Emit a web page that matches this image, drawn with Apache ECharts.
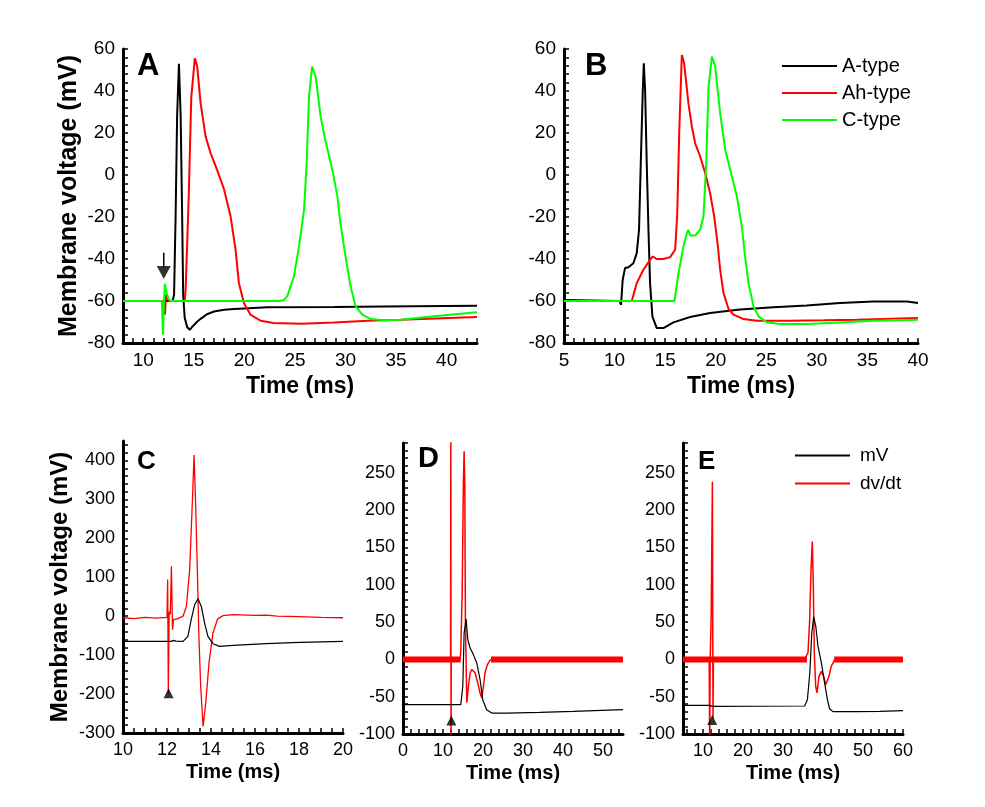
<!DOCTYPE html>
<html>
<head>
<meta charset="utf-8">
<script src="https://cdn.jsdelivr.net/npm/echarts@6/dist/echarts.min.js"></script>
<style>html,body{margin:0;padding:0;background:#fff;}#c{width:985px;height:807px;}</style>
</head>
<body>
<div id="c"></div>
<script>
// ---------- Panel A (time ms, voltage mV) ----------
const aBlack = [[8,-60],[12.9,-60],[13.05,-57],[13.2,-20],[13.35,28],[13.53,53],[13.7,28],[13.85,-20],[13.95,-57],[14.1,-68],[14.35,-72.5],[14.6,-73.7],[14.9,-72],[15.3,-70],[15.67,-68.5],[16.3,-66.3],[17,-65],[18,-64.2],[19,-63.8],[22.3,-63],[28.9,-62.9],[33.8,-62.6],[43,-62.3]];
const aRed = [[8,-60],[12.05,-60],[12.15,-66.5],[12.25,-57],[12.4,-59],[12.6,-60],[14.1,-60],[14.19,-54.6],[14.35,-32],[14.5,-10],[14.75,37],[15.1,55.6],[15.34,51.6],[15.67,34.2],[16.17,18.3],[16.66,10.4],[17.3,2.4],[18.0,-7],[18.64,-19.8],[19.13,-35.6],[19.46,-51.5],[19.96,-61],[20.6,-66.5],[21.6,-69.4],[22.9,-70.5],[25.6,-70.8],[28.9,-70.2],[32.2,-69.4],[35.45,-68.9],[43,-67.6]];
const aGreen = [[8,-60],[11.85,-60],[11.95,-76],[12.05,-60],[12.14,-51.8],[12.3,-56],[12.5,-59],[12.7,-60],[23.5,-60],[23.9,-59.5],[24.24,-57.8],[24.9,-48.3],[25.4,-34],[25.9,-16.6],[26.16,5.6],[26.39,37.3],[26.7,51.6],[27.05,46.8],[27.54,27.8],[28.0,16.7],[28.7,2.4],[29.2,-10.2],[29.5,-23],[30.0,-38.8],[30.5,-53],[31.0,-62.6],[31.66,-66.5],[32.5,-68.6],[33.8,-69.2],[35.45,-68.9],[38.75,-67.3],[43,-65.4]];
const aArrowShaft = [[12.03,-37],[12.03,-44]];
const aArrowHead = [[12.03,-46.4]];

// ---------- Panel B ----------
const bBlack = [[5,-59.5],[10.5,-60],[10.64,-61.8],[10.8,-50],[11.04,-44.3],[11.37,-43.9],[11.86,-42],[12.19,-37.2],[12.42,-26],[12.59,5.6],[12.79,40.5],[12.89,53.2],[13.02,40.5],[13.18,5.6],[13.35,-26],[13.51,-51.5],[13.74,-67.3],[14.17,-72.9],[14.83,-72.9],[15.82,-70.2],[17.47,-67.6],[19.45,-65.7],[22.4,-64.1],[25.7,-63],[29,-62.2],[32.3,-61],[35.6,-60.2],[38.9,-60.2],[40,-61]];
const bRed = [[5,-60],[11.7,-60],[12.19,-51.5],[12.85,-45.1],[13.51,-40.4],[13.78,-38.8],[14.17,-40],[14.83,-40],[15.49,-39.1],[15.99,-35.6],[16.2,-18.2],[16.4,21.5],[16.65,57.1],[16.88,53.2],[17.3,34.2],[17.64,23.1],[17.97,15.1],[18.46,8.8],[18.96,0.9],[19.45,-8.7],[19.85,-19.8],[20.18,-32.4],[20.44,-45.1],[20.77,-56.2],[21.27,-63.8],[21.76,-66.5],[22.75,-68.6],[24.07,-69.4],[27.37,-69.4],[30.67,-69.2],[33.97,-68.9],[40,-68.1]];
const bGreen = [[5,-60],[15.92,-60],[16.32,-46.7],[16.81,-34],[17.14,-27.7],[17.3,-26.1],[17.47,-28.8],[17.97,-28.8],[18.46,-26.1],[18.79,-19.8],[19.06,5.6],[19.29,42.1],[19.62,56.4],[19.95,51.6],[20.44,29.4],[20.94,12],[21.6,-0.7],[22.09,-10.2],[22.58,-24.5],[22.9,-38.8],[23.24,-51.5],[23.74,-62.6],[24.23,-67.3],[25.06,-70.2],[26.4,-71],[29,-71],[32.3,-70.2],[35.6,-69.4],[40,-68.9]];

// ---------- Panel C ----------
const cBlack = [[10,-64.7],[12.2,-64.7],[12.3,-62],[12.4,-64],[12.73,-64.7],[12.95,-51.8],[13.1,-9],[13.26,29.5],[13.41,45],[13.56,25],[13.71,-17.6],[13.86,-51.8],[14.09,-70.6],[14.39,-77.5],[15,-75],[16.5,-70.6],[18.03,-67.2],[20,-64.7]];
const cRed = [[10,-4],[10.5,-6],[11,-3],[11.5,-5],[12.0,-3],[12.03,94],[12.06,-200],[12.1,12],[12.15,5],[12.2,128],[12.25,-35],[12.3,-9],[12.5,-6],[12.73,0],[12.88,25],[13.03,119],[13.15,290],[13.23,414],[13.3,290],[13.38,119],[13.45,-52],[13.53,-180],[13.64,-283],[13.76,-223],[13.91,-120],[14.09,-43],[14.3,-7],[14.55,1.5],[15,4],[16,2],[16.5,3],[17,0],[18,-1],[19,-3],[20,-4]];
const cMarker = [[12.07,-198]];

// ---------- Panel D ----------
const dBlack = [[0,-60.7],[14.45,-60.7],[14.95,-36],[15.28,35.4],[15.78,54.2],[16.2,26.5],[16.78,15.3],[17.6,6.4],[18.44,-4.8],[19.27,-27],[19.93,-54],[20.9,-67.4],[22.2,-71.9],[25.9,-71.9],[34.2,-71],[42.5,-69.6],[55,-67.4]];
const dRed = [[0,0],[11.9,0],[11.96,320],[12.0,-130],[12.06,0],[14.3,0],[14.45,13],[14.78,85],[15.1,237],[15.28,279],[15.45,232],[15.6,53],[15.95,-58],[16.36,-36],[16.78,-18],[17.2,-13.7],[17.6,-11.5],[18.0,-18],[18.6,-29.4],[19.27,-45],[19.7,-51.7],[20.1,-36],[20.5,-18],[21.1,-7],[21.76,-1],[22.6,0],[55,0]];
const dRedNoise = [[0,0],[14.4,0],[18,'-'],[22,0],[55,0]];
const dMarker = [[12.1,-81.8]];

// ---------- Panel E ----------
const eBlack = [[5,-61.6],[11.7,-61.6],[12.3,-63],[35.4,-62.5],[36.1,-54],[36.7,-18.2],[37.2,35.4],[37.67,56.9],[38.2,44.4],[38.75,17.5],[39.6,-4.8],[40.4,-31.6],[41.1,-54],[41.67,-66.5],[42.5,-70],[48.3,-70],[54.2,-69.6],[60,-68.7]];
const eRed = [[5,0],[11.55,0],[11.67,-120],[11.8,0],[12.05,60],[12.2,150],[12.35,238],[12.5,-80],[12.6,0],[35.4,0],[36.25,9],[36.67,53.3],[37.0,120],[37.33,158],[37.58,97.7],[37.83,8.6],[38.17,-36],[38.5,-45],[39.0,-22.7],[39.58,-16],[40.17,-22.7],[40.67,-34],[41.0,-36],[41.5,-22.7],[42.08,-9],[42.9,-1],[43.5,0],[60,0]];
const eRedNoise = [[5,0],[36,0],[39,'-'],[42.8,0],[60,0]];
const eMarker = [[12.3,-81.4]];

// ---------- Tick labels ----------
const abYLabels = [-80,-60,-40,-20,0,20,40,60];
const aXLabels = [10,15,20,25,30,35,40];
const bXLabels = [5,10,15,20,25,30,35,40];
const cYLabels = [-300,-200,-100,0,100,200,300,400];
const cXLabels = [10,12,14,16,18,20];
const deYLabels = [-100,-50,0,50,100,150,200,250];
const dXLabels = [0,10,20,30,40,50];
const eXLabels = [10,20,30,40,50,60];

const legendB = ['A-type','Ah-type','C-type'];
const legendE = ['mV','dv/dt'];

function steps(a, b, s) { const r = []; for (let v = a; v <= b + 1e-9; v += s) r.push(Math.round(v * 1000) / 1000); return r; }

const FONT = "'Liberation Sans', Arial, Helvetica, sans-serif";

function axis(gi, min, max, labels, ticks, fs, extra) {
  return Object.assign({
    type: 'value', gridIndex: gi, min: min, max: max,
    axisLine: { show: true, onZero: false, lineStyle: { color: '#000', width: 3 } },
    axisTick: { show: true, inside: true, length: 5, customValues: ticks, lineStyle: { color: '#000', width: 1.5 } },
    axisLabel: { customValues: labels, color: '#000', fontSize: fs, fontFamily: FONT, margin: 8 },
    splitLine: { show: false },
    minorTick: { show: false }
  }, extra || {});
}
function xName(fs, gap) {
  return { name: 'Time (ms)', nameLocation: 'middle', nameGap: gap, nameTextStyle: { color: '#000', fontSize: fs, fontWeight: 'bold', fontFamily: FONT } };
}
function yName(fs, gap) {
  return { name: 'Membrane voltage (mV)', nameLocation: 'middle', nameGap: gap, nameTextStyle: { color: '#000', fontSize: fs, fontWeight: 'bold', fontFamily: FONT } };
}
function line(name, data, gi, color, w) {
  return { name: name, type: 'line', xAxisIndex: gi, yAxisIndex: gi, data: data, showSymbol: false, symbol: 'none', smooth: false, clip: true, animation: false,
    lineStyle: { color: color, width: w }, itemStyle: { color: color }, emphasis: { disabled: true } };
}
function marker(data, gi, rot, size) {
  return { name: 'marker', type: 'scatter', xAxisIndex: gi, yAxisIndex: gi, data: data, symbol: 'triangle', symbolSize: size, symbolRotate: rot,
    itemStyle: { color: '#000' }, silent: true, animation: false, z: 5 };
}

const chart = echarts.init(document.getElementById('c'), null, { renderer: 'canvas' });
const option = {
  backgroundColor: '#fff',
  animation: false,
  textStyle: { fontFamily: FONT },
  grid: [
    { left: 123, top: 49, width: 354, height: 294 },
    { left: 564, top: 49, width: 354, height: 294 },
    { left: 123, top: 441, width: 220, height: 292 },
    { left: 403, top: 443, width: 220, height: 291 },
    { left: 683, top: 443, width: 220, height: 291 }
  ],
  xAxis: [
    axis(0, 8, 43, aXLabels, steps(8, 43, 1), 19, xName(23, 32)),
    axis(1, 5, 40, bXLabels, steps(5, 40, 1), 19, xName(23, 32)),
    axis(2, 10, 20, cXLabels, steps(10, 20, 0.5), 18, xName(20, 29)),
    axis(3, 0, 55, dXLabels, steps(0, 55, 2), 18, xName(20, 29)),
    axis(4, 5, 60, eXLabels, steps(6, 60, 2), 18, xName(20, 29))
  ],
  yAxis: [
    axis(0, -80, 60, abYLabels, steps(-80, 60, 4), 19, yName(25, 41)),
    axis(1, -80, 60, abYLabels, steps(-80, 60, 4), 19),
    axis(2, -300, 450, cYLabels, steps(-300, 440, 20), 18, yName(24, 51)),
    axis(3, -100, 290, deYLabels, steps(-100, 290, 10), 18),
    axis(4, -100, 290, deYLabels, steps(-100, 290, 10), 18)
  ],
  legend: [
    { data: legendB, orient: 'vertical', left: 782, top: 56, padding: 0, itemWidth: 55, itemHeight: 2, itemGap: 7, icon: 'rect',
      textStyle: { color: '#000', fontSize: 20, fontFamily: FONT }, selectedMode: false },
    { data: legendE, orient: 'vertical', left: 795, top: 446, padding: 0, itemWidth: 55, itemHeight: 2, itemGap: 9, icon: 'rect',
      textStyle: { color: '#000', fontSize: 19, fontFamily: FONT, padding: [0, 0, 0, 5] }, selectedMode: false }
  ],
  graphic: [
    { type: 'text', left: 137, top: 51, style: { text: 'A', font: 'bold 31px ' + FONT, fill: '#000' } },
    { type: 'text', left: 585, top: 51, style: { text: 'B', font: 'bold 31px ' + FONT, fill: '#000' } },
    { type: 'text', left: 137, top: 449, style: { text: 'C', font: 'bold 26px ' + FONT, fill: '#000' } },
    { type: 'text', left: 418, top: 444, style: { text: 'D', font: 'bold 29px ' + FONT, fill: '#000' } },
    { type: 'text', left: 698, top: 449, style: { text: 'E', font: 'bold 26px ' + FONT, fill: '#000' } }
  ],
  series: [
    line('A-type', aBlack, 0, '#000000', 2),
    line('Ah-type', aRed, 0, '#ff0000', 2),
    line('C-type', aGreen, 0, '#00ff00', 2),
    line('arrow', aArrowShaft, 0, '#000000', 1.5),
    marker(aArrowHead, 0, 180, [14, 13]),

    line('A-type', bBlack, 1, '#000000', 2),
    line('Ah-type', bRed, 1, '#ff0000', 2),
    line('C-type', bGreen, 1, '#00ff00', 2),

    line('dv/dt', cRed, 2, '#ff0000', 1.3),
    line('mV', cBlack, 2, '#000000', 1.2),
    marker(cMarker, 2, 0, [10, 10]),

    line('dv/dt', dRedNoise, 3, '#ff0000', 6),
    line('dv/dt', dRed, 3, '#ff0000', 1.5),
    line('mV', dBlack, 3, '#000000', 1.2),
    marker(dMarker, 3, 0, [10, 10]),

    line('dv/dt', eRedNoise, 4, '#ff0000', 6),
    line('dv/dt', eRed, 4, '#ff0000', 1.5),
    line('mV', eBlack, 4, '#000000', 1.2),
    marker(eMarker, 4, 0, [10, 10])
  ]
};
chart.setOption(option);
</script>
</body>
</html>
